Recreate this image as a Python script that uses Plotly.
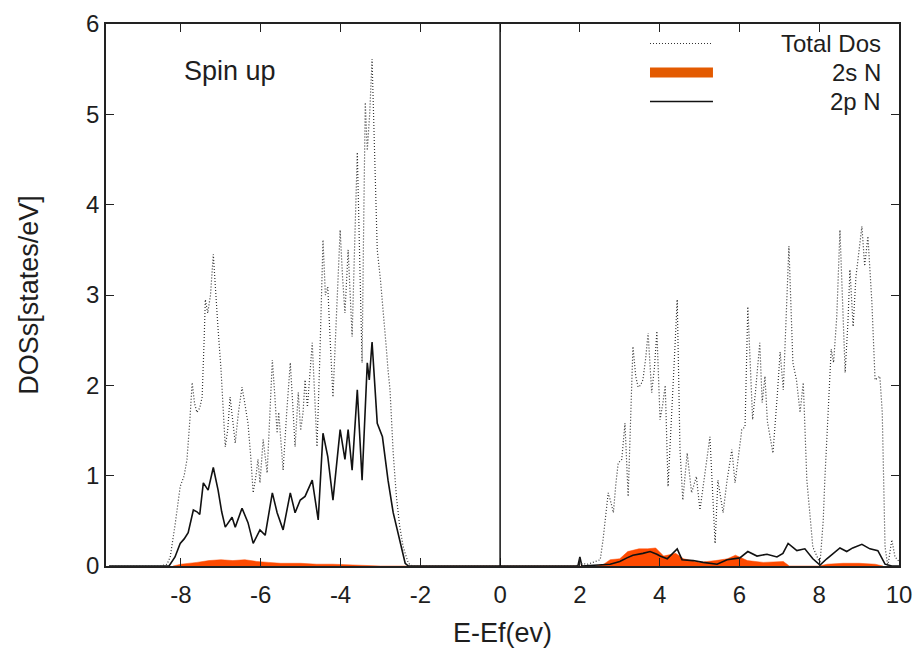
import plotly.graph_objects as go

# Spin-up DOS of the N site: total, 2s and 2p partial DOS (energies relative to Ef, eV)
total_e = [-9.8, -8.5, -8.35, -8.27, -8.15, -8.02, -7.92, -7.85, -7.78, -7.72, -7.66, -7.6, -7.53,
           -7.47, -7.42, -7.39, -7.33, -7.26, -7.19, -7.13, -7.07, -7.0, -6.94, -6.89, -6.83, -6.77,
           -6.7, -6.64, -6.56, -6.47, -6.4, -6.32, -6.25, -6.19, -6.12, -6.07, -6.02, -5.94, -5.84,
           -5.78, -5.71, -5.65, -5.59, -5.55, -5.5, -5.44, -5.35, -5.26, -5.2, -5.14, -5.06, -5.0,
           -4.94, -4.89, -4.83, -4.77, -4.71, -4.65, -4.59, -4.52, -4.44, -4.38, -4.32, -4.26, -4.19,
           -4.1, -4.01, -3.95, -3.89, -3.81, -3.76, -3.71, -3.65, -3.58, -3.52, -3.46, -3.42, -3.38,
           -3.33, -3.27, -3.21, -3.15, -3.08, -3.0, -2.92, -2.85, -2.81, -2.76, -2.68, -2.6, -2.52,
           -2.43, -2.3, -2.2,
           1.9, 2.0, 2.2, 2.4, 2.51, 2.58, 2.65, 2.71, 2.78, 2.84, 2.9, 2.96, 3.05, 3.13, 3.21, 3.27,
           3.33, 3.4, 3.46, 3.52, 3.58, 3.65, 3.71, 3.8, 3.87, 3.93, 4.01, 4.08, 4.14, 4.21, 4.3, 4.37,
           4.44, 4.51, 4.58, 4.69, 4.8, 4.92, 5.01, 5.13, 5.26, 5.39, 5.46, 5.59, 5.69, 5.81, 5.89,
           6.06, 6.14, 6.21, 6.27, 6.33, 6.4, 6.51, 6.57, 6.64, 6.7, 6.84, 6.95, 7.02, 7.1, 7.24, 7.34,
           7.43, 7.52, 7.6, 7.69, 7.78, 7.84, 8.02, 8.1, 8.14, 8.22, 8.3, 8.36, 8.44, 8.52, 8.59, 8.65,
           8.72, 8.77, 8.85, 8.92, 9.07, 9.14, 9.22, 9.32, 9.4, 9.52, 9.58, 9.65, 9.72, 9.82, 9.9, 10.0]
total_dos = [0, 0, 0.02, 0.1, 0.45, 0.88, 1.0, 1.18, 1.6, 2.03, 1.8, 1.7, 1.75,
             1.87, 2.5, 2.95, 2.8, 3.0, 3.45, 3.0, 2.62, 2.2, 1.7, 1.32, 1.5, 1.87,
             1.6, 1.36, 1.7, 1.98, 1.8, 1.58, 1.2, 0.81, 1.0, 1.18, 0.92, 1.4, 1.03,
             1.6, 2.28, 1.9, 1.47, 1.7, 1.4, 1.06, 1.7, 2.25, 1.8, 1.32, 1.92, 1.5,
             1.7, 2.06, 1.76, 2.1, 2.47, 1.9, 1.32, 2.3, 3.61, 3.0, 3.09, 2.5, 1.87,
             2.8, 3.72, 3.2, 2.8, 3.5, 3.0, 2.54, 3.5, 4.58, 3.4, 2.25, 3.8, 5.13,
             4.6, 5.0, 5.61, 4.5, 3.5, 3.17, 2.8, 2.4, 2.17, 1.95, 1.25, 0.77, 0.45,
             0.21, 0.03, 0,
             0, 0.03, 0.02, 0.05, 0.07, 0.29, 0.55, 0.81, 0.7, 0.59, 0.9, 1.14, 1.18, 1.58, 0.77, 1.5,
             2.43, 2.1, 1.98, 2.0, 2.06, 2.3, 2.58, 1.92, 2.2, 2.6, 1.62, 1.8, 2.0, 0.88, 1.6, 2.3,
             2.95, 1.29, 0.73, 1.25, 0.81, 0.99, 0.62, 0.99, 1.43, 0.25, 0.95, 0.59, 0.95, 1.29, 0.92,
             1.51, 1.54, 2.87, 2.2, 1.62, 1.92, 2.47, 1.81, 2.1, 1.6, 1.25, 1.9, 2.37, 1.95, 3.54, 2.25,
             2.06, 1.7, 2.03, 0.95, 0.5, 0.21, 0.03, 0.5, 0.95, 1.7, 2.4, 2.25, 2.76, 3.72, 2.9, 2.14,
             2.7, 3.28, 2.65, 3.2, 3.76, 3.32, 3.65, 2.92, 2.06, 2.1, 1.7, 0.21, 0.0, 0.29, 0.1, 0.05]

s_e = [-8.2, -8.0, -7.6, -7.3, -7.0, -6.7, -6.4, -6.1, -5.8, -5.5, -5.0, -4.6, -4.2, -3.7, -3.4, -3.0,
       2.4, 2.6, 2.76, 3.0, 3.2, 3.48, 3.7, 3.9, 4.1, 4.4, 4.6, 5.0, 5.4, 5.7, 5.9, 6.2, 6.6, 7.1,
       7.25, 8.0, 8.2, 8.6, 9.0, 9.4, 9.6]
s_dos = [0, 0.02, 0.04, 0.06, 0.07, 0.06, 0.07, 0.05, 0.04, 0.03, 0.03, 0.02, 0.02, 0.01, 0.01, 0,
         0, 0.02, 0.07, 0.08, 0.16, 0.19, 0.19, 0.2, 0.11, 0.14, 0.08, 0.04, 0.06, 0.08, 0.12, 0.06,
         0.04, 0.05, 0, 0, 0.02, 0.03, 0.03, 0.02, 0]

p_e = [-9.8, -8.3, -8.15, -8.02, -7.92, -7.82, -7.69, -7.6, -7.53, -7.44, -7.32, -7.19, -7.07,
       -6.98, -6.89, -6.72, -6.64, -6.47, -6.32, -6.19, -6.02, -5.89, -5.71, -5.59, -5.44, -5.26,
       -5.14, -5.01, -4.89, -4.71, -4.56, -4.44, -4.32, -4.19, -4.01, -3.89, -3.81, -3.71, -3.58,
       -3.46, -3.33, -3.28, -3.21, -3.08, -2.95, -2.81, -2.68, -2.51, -2.38, -2.3,
       1.95, 2.0, 2.05, 2.76, 3.0, 3.18, 3.33, 3.58, 3.76, 3.93, 4.01, 4.19, 4.44, 4.56, 4.84, 5.09,
       5.44, 5.69, 6.01, 6.21, 6.44, 6.69, 6.94, 7.09, 7.22, 7.44, 7.64, 7.84, 8.02, 8.19, 8.52,
       8.69, 8.84, 9.07, 9.27, 9.47, 9.65, 9.82, 10.0]
p_dos = [0, 0, 0.1, 0.25, 0.3, 0.37, 0.62, 0.6, 0.57, 0.92, 0.84, 1.09, 0.84,
         0.6, 0.43, 0.54, 0.43, 0.64, 0.48, 0.25, 0.4, 0.34, 0.81, 0.59, 0.4, 0.81,
         0.59, 0.73, 0.77, 0.95, 0.51, 1.47, 1.21, 0.73, 1.51, 1.18, 1.51, 1.06, 1.95,
         0.95, 2.25, 2.06, 2.48, 1.58, 1.43, 0.95, 0.59, 0.29, 0.03, 0,
         0, 0.1, 0, 0.02, 0.05, 0.09, 0.12, 0.14, 0.16, 0.13, 0.11, 0.08, 0.19, 0.07, 0.06, 0.04,
         0.02, 0.07, 0.09, 0.16, 0.11, 0.13, 0.10, 0.14, 0.25, 0.17, 0.19, 0.08, 0.01, 0.08, 0.2,
         0.16, 0.2, 0.24, 0.19, 0.17, 0.02, 0, 0]

x_ticks = [-8, -6, -4, -2, 0, 2, 4, 6, 8, 10]
y_ticks = [0, 1, 2, 3, 4, 5, 6]

FONT = "Liberation Sans, Arial, sans-serif"
INK = "#1e1e1e"
ORANGE = "#ff4a00"
DOTTED = dict(color="#333333", width=1.2, dash="1px,2px")

fig = go.Figure()
fig.add_trace(go.Scatter(x=s_e, y=s_dos, mode="lines", fill="tozeroy",
                         line=dict(color=ORANGE, width=0.5), fillcolor=ORANGE,
                         name="2s N", showlegend=False))
fig.add_trace(go.Scatter(x=p_e, y=p_dos, mode="lines",
                         line=dict(color="#111111", width=1.6), name="2p N", showlegend=False))
fig.add_trace(go.Scatter(x=total_e, y=total_dos, mode="lines", line=DOTTED,
                         name="Total Dos", showlegend=False))

# Fermi level marker
fig.add_vline(x=0, line=dict(color="#111111", width=1.5))

axis_common = dict(showline=True, linecolor="#222222", linewidth=1.5, mirror="ticks",
                   ticks="inside", ticklen=8, tickwidth=1.2, tickcolor="#222222",
                   showgrid=False, zeroline=False, automargin=False,
                   tickfont=dict(family=FONT, size=24, color=INK),
                   title_font=dict(family=FONT, size=27, color=INK))

fig.update_xaxes(range=[-9.88, 10], tickvals=x_ticks, ticktext=[str(v) for v in x_ticks],
                 title_text="E-Ef(ev)", title_standoff=17, ticklabelstandoff=6, **axis_common)
fig.update_yaxes(range=[0, 6], tickvals=y_ticks, ticktext=[str(v) for v in y_ticks],
                 title_text="DOSs[states/eV]", title_standoff=40, ticklabelstandoff=0,
                 **axis_common)

# Panel label
fig.add_annotation(x=-7.97, y=5.48, xref="x", yref="y", text="Spin up", showarrow=False,
                   xanchor="left", yanchor="middle", font=dict(family=FONT, size=27, color=INK))

# Key: samples on the left, labels right-aligned
key_x0, key_x1, key_text_x = 0.686, 0.7654, 0.9786
key_rows = [
    ("Total Dos", 0.9640, DOTTED),
    ("2s N", 0.9105, dict(color="#e35a00", width=10)),
    ("2p N", 0.8570, dict(color="#111111", width=1.6)),
]
for label, ky, style in key_rows:
    fig.add_shape(type="line", xref="paper", yref="paper", x0=key_x0, x1=key_x1, y0=ky, y1=ky,
                  line=style)
    fig.add_annotation(x=key_text_x, y=ky, xref="paper", yref="paper", text=label,
                       showarrow=False, xanchor="right", yanchor="middle", borderpad=0,
                       font=dict(family=FONT, size=24, color=INK))

fig.update_layout(width=920, height=648, margin=dict(l=106, r=21, t=24, b=82),
                  plot_bgcolor="white", paper_bgcolor="white", showlegend=False)

fig.write_html("out.html")
